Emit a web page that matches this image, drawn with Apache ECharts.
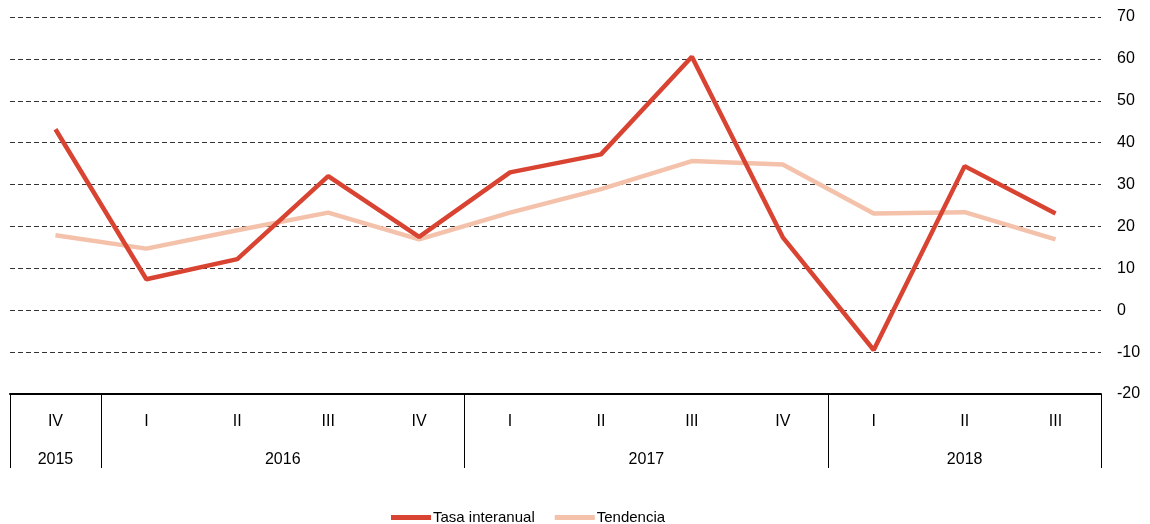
<!DOCTYPE html>
<html>
<head>
<meta charset="utf-8">
<script src="https://cdn.jsdelivr.net/npm/echarts@6/dist/echarts.min.js"></script>
<style>
  html, body { margin: 0; padding: 0; background: #fff; }
  #chart { width: 1150px; height: 524px; }
</style>
</head>
<body>
<div id="chart"></div>
<script>
// datos
var quarters = ['IV', 'I', 'II', 'III', 'IV', 'I', 'II', 'III', 'IV', 'I', 'II', 'III'];
var years = ['2015', '2016', '2016', '2016', '2016', '2017', '2017', '2017', '2017', '2018', '2018', '2018'];
var tasaInteranual = [43.2, 7.4, 12.2, 32.0, 17.5, 32.9, 37.2, 60.5, 17.4, -9.5, 34.4, 23.1];
var tendencia = [17.9, 14.7, 19.1, 23.3, 16.9, 23.3, 28.9, 35.6, 34.8, 23.1, 23.4, 16.9];

(function () {
    var myChart = echarts.init(document.getElementById('chart'));

    // grupos de años: centro y separadores
    var yearCenters = {};
    var separators = [0];
    var start = 0;
    for (var i = 1; i <= years.length; i++) {
        if (i === years.length || years[i] !== years[i - 1]) {
            yearCenters[(start + i) / 2] = years[start];
            if (i < years.length) separators.push(i);
            start = i;
        }
    }

    var font = 'Liberation Sans, Arial, sans-serif';

    var option = {
        animation: false,
        grid: {
            left: 10,
            right: 49,
            top: 17,
            bottom: 130
        },
        legend: {
            top: 505,
            left: 386,
            icon: 'rect',
            itemWidth: 40,
            itemHeight: 5,
            itemGap: 20,
            textStyle: { fontFamily: font, fontSize: 15, color: '#000', padding: [0, 0, 0, -3] },
            data: ['Tasa interanual', 'Tendencia']
        },
        xAxis: [{
            type: 'category',
            data: quarters,
            boundaryGap: true,
            axisLine: { onZero: false, lineStyle: { color: '#000', width: 2 } },
            axisTick: {
                show: true,
                length: 74,
                lineStyle: { color: '#000', width: 1 },
                interval: function (index) {
                    return separators.indexOf(index) >= 0;
                }
            },
            axisLabel: {
                margin: 20,
                fontFamily: font,
                fontSize: 16,
                color: '#000',
                interval: 0
            },
            splitLine: { show: false }
        }, {
            type: 'value',
            position: 'bottom',
            min: 0,
            max: years.length,
            interval: 0.5,
            axisLine: { show: false, onZero: false },
            axisTick: { show: false },
            splitLine: { show: false },
            axisLabel: {
                margin: 58,
                fontFamily: font,
                fontSize: 16,
                color: '#000',
                formatter: function (v) {
                    return yearCenters[v] || '';
                }
            }
        }],
        yAxis: {
            type: 'value',
            position: 'right',
            min: -20,
            max: 70,
            interval: 10,
            axisLine: { show: false },
            axisTick: { show: false },
            axisLabel: {
                margin: 16,
                fontFamily: font,
                fontSize: 16,
                color: '#000'
            },
            splitLine: {
                lineStyle: { color: '#333', width: 1, type: [5, 3] }
            }
        },
        series: [{
            name: 'Tendencia',
            type: 'line',
            data: tendencia,
            showSymbol: false,
            symbol: 'none',
            color: '#F4C1AA',
            lineStyle: { width: 4.5, color: '#F4C1AA' }
        }, {
            name: 'Tasa interanual',
            type: 'line',
            data: tasaInteranual,
            showSymbol: false,
            symbol: 'none',
            color: '#D94331',
            lineStyle: { width: 4.5, color: '#D94331' },
            z: 3
        }]
    };
    myChart.setOption(option);
})();
</script>
</body>
</html>
